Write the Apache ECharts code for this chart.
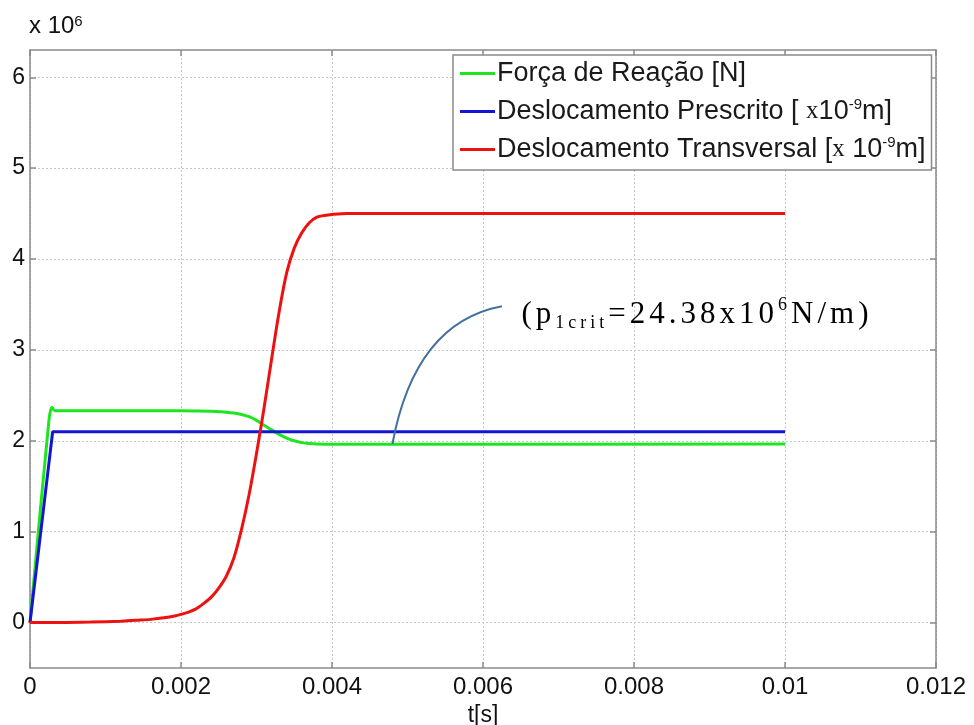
<!DOCTYPE html>
<html>
<head>
<meta charset="utf-8">
<script src="https://cdn.jsdelivr.net/npm/echarts@6/dist/echarts.min.js"></script>
<style>html,body{margin:0;padding:0;background:#fff;}#c{width:974px;height:725px;}</style>
</head>
<body>
<div id="c"></div>
<script>
// ---- data (y values in units of 10^6) ----
const xTicks = [0, 0.002, 0.004, 0.006, 0.008, 0.01, 0.012];
const yTicks = [0, 1, 2, 3, 4, 5, 6];

const forcaT = [0, 0.00025, 0.00029, 0.00033, 0.001, 0.0016, 0.002, 0.0022, 0.0024, 0.0025, 0.0026, 0.0027, 0.0028, 0.0029, 0.003, 0.0031, 0.0032, 0.0033, 0.0034, 0.0035, 0.0036, 0.0037, 0.0038, 0.004, 0.005, 0.01];
const forcaY = [0, 2.22, 2.37, 2.33, 2.33, 2.33, 2.33, 2.328, 2.325, 2.32, 2.315, 2.305, 2.29, 2.265, 2.225, 2.17, 2.12, 2.07, 2.03, 2.0, 1.98, 1.97, 1.965, 1.962, 1.962, 1.965];

const prescT = [0, 0.0003, 0.01];
const prescY = [0, 2.1, 2.1];

const transT = [0, 0.0004, 0.0008, 0.0012, 0.0014, 0.0016, 0.0018, 0.0019, 0.002, 0.0021, 0.0022, 0.0023, 0.0024, 0.0025, 0.0026, 0.0027, 0.0028, 0.0029, 0.003, 0.0031, 0.0032, 0.0033, 0.0034, 0.0035, 0.0036, 0.0037, 0.0038, 0.0039, 0.004, 0.0042, 0.0046, 0.01];
const transY = [0, 0.0, 0.005, 0.015, 0.025, 0.035, 0.055, 0.07, 0.09, 0.115, 0.15, 0.21, 0.28, 0.38, 0.51, 0.71, 1.02, 1.40, 1.86, 2.36, 2.9, 3.42, 3.85, 4.12, 4.29, 4.40, 4.46, 4.48, 4.49, 4.5, 4.5, 4.5];

const seriesNames = ['Força de Reação [N]', 'Deslocamento Prescrito [ x10-9m]', 'Deslocamento Transversal [x 10-9m]'];
const legendRich = {
  'Força de Reação [N]': 'Força de Reação [N]',
  'Deslocamento Prescrito [ x10-9m]': 'Deslocamento Prescrito [ {x|x}10{sup|-9}m]',
  'Deslocamento Transversal [x 10-9m]': 'Deslocamento Transversal [{x|x} 10{sup|-9}m]'
};

// annotation anchor points (data coords)
const annotStart = [0.0048, 1.965];
const annotCtrl = [0.0051, 3.3];
const annotEnd = [0.00625, 3.48];
const annotTextPos = [0.00651, 3.39];

function pairs(t, y) { return t.map((v, i) => [v, y[i]]); }

const chart = echarts.init(document.getElementById('c'));
const axisGray = '#8a8a8a';
const FONT = 'Liberation Sans, Arial, sans-serif';

chart.setOption({
  animation: false,
  backgroundColor: '#fff',
  grid: { left: 30, top: 50, width: 906, height: 618, show: false, outerBoundsMode: 'none', containLabel: false },
  xAxis: [{
    type: 'value', min: 0, max: 0.012, interval: 0.002,
    name: 't[s]', nameLocation: 'middle', nameGap: 31,
    nameTextStyle: { fontSize: 23, color: '#111', fontFamily: FONT },
    axisLine: { show: true, onZero: false, lineStyle: { color: axisGray, width: 1.5 } },
    axisTick: { show: true, inside: true, length: 6, lineStyle: { color: axisGray, width: 1.5 } },
    axisLabel: { fontSize: 24, color: '#111', fontFamily: FONT, margin: 7 },
    splitLine: { show: true, lineStyle: { color: '#c8c8c8', type: [2, 2], width: 1 } }
  }, {
    type: 'value', min: 0, max: 0.012, interval: 0.002, position: 'top',
    axisLine: { show: true, onZero: false, lineStyle: { color: axisGray, width: 1.5 } },
    axisTick: { show: true, inside: true, length: 6, lineStyle: { color: axisGray, width: 1.5 } },
    axisLabel: { show: false }, splitLine: { show: false }
  }],
  yAxis: [{
    type: 'value', min: -0.5, max: 6.3,
    axisLine: { show: true, onZero: false, lineStyle: { color: axisGray, width: 1.5 } },
    axisTick: { show: true, inside: true, length: 6, customValues: yTicks, lineStyle: { color: axisGray, width: 1.5 } },
    axisLabel: { fontSize: 23, color: '#111', fontFamily: FONT, margin: 5, customValues: yTicks },
    splitLine: { show: true, lineStyle: { color: '#c8c8c8', type: [2, 2], width: 1 } }
  }, {
    type: 'value', min: -0.5, max: 6.3, position: 'right',
    axisLine: { show: true, onZero: false, lineStyle: { color: axisGray, width: 1.5 } },
    axisTick: { show: true, inside: true, length: 6, customValues: yTicks, lineStyle: { color: axisGray, width: 1.5 } },
    axisLabel: { show: false, customValues: yTicks }, splitLine: { show: false }
  }],
  legend: {
    orient: 'vertical', left: 453, top: 55,
    data: seriesNames,
    icon: 'rect', itemWidth: 35, itemHeight: 3, itemGap: 9,
    padding: [4, 6, 6, 7],
    backgroundColor: '#fff', borderColor: '#8a8a8a', borderWidth: 1.5,
    formatter: name => legendRich[name],
    textStyle: {
      fontSize: 27, color: '#1a1a1a', fontFamily: FONT, lineHeight: 29, padding: [0, 0, 0, -3],
      rich: {
        sup: { fontSize: 15, fontFamily: FONT, color: '#1a1a1a', verticalAlign: 'top', lineHeight: 18 },
        x: { fontSize: 25, fontFamily: 'Liberation Serif, serif', color: '#1a1a1a' }
      }
    }
  },
  series: [{
    name: seriesNames[0], type: 'line', data: pairs(forcaT, forcaY),
    showSymbol: false, smooth: 0.3,
    lineStyle: { color: '#1ee61e', width: 3 }, itemStyle: { color: '#1ee61e' }, z: 3
  }, {
    name: seriesNames[1], type: 'line', data: pairs(prescT, prescY),
    showSymbol: false,
    lineStyle: { color: '#1414d2', width: 3 }, itemStyle: { color: '#1414d2' }, z: 4
  }, {
    name: seriesNames[2], type: 'line', data: pairs(transT, transY),
    showSymbol: false, smooth: 0.3,
    lineStyle: { color: '#ee1111', width: 3 }, itemStyle: { color: '#ee1111' }, z: 5
  }]
});

// annotation + exponent label
const p0 = chart.convertToPixel({ gridIndex: 0 }, annotStart);
const pc = chart.convertToPixel({ gridIndex: 0 }, annotCtrl);
const p1 = chart.convertToPixel({ gridIndex: 0 }, annotEnd);
const pt = chart.convertToPixel({ gridIndex: 0 }, annotTextPos);

const annotParts = [['m', '(p'], ['s', '1crit'], ['m', '=24.38x10'], ['u', '6'], ['m', 'N/m)']];
let annotStr = '';
annotParts.forEach(([k, s]) => { for (const ch of s) annotStr += '{' + k + '|' + ch + '}'; });
const serif = 'Liberation Serif, Times New Roman, serif';

chart.setOption({
  graphic: [{
    type: 'bezierCurve',
    shape: { x1: p0[0], y1: p0[1], cpx1: pc[0], cpy1: pc[1], x2: p1[0], y2: p1[1] },
    style: { stroke: '#44709f', lineWidth: 2, fill: null }, z: 100
  }, {
    type: 'text', x: pt[0], y: pt[1], z: 100,
    style: {
      text: annotStr, verticalAlign: 'middle',
      rich: {
        m: { fontSize: 31, fontFamily: serif, color: '#111', lineHeight: 36, padding: [0, 4, 0, 0] },
        s: { fontSize: 18, fontFamily: serif, color: '#111', lineHeight: 24, verticalAlign: 'bottom', padding: [0, 4, 0, 0] },
        u: { fontSize: 18, fontFamily: serif, color: '#111', lineHeight: 22, verticalAlign: 'top', padding: [0, 4, 0, 0] }
      }
    }
  }, {
    type: 'text', left: 29, top: 14, z: 100,
    style: {
      text: 'x 10{u|6}',
      font: '24px ' + FONT, fill: '#111',
      rich: {
        u: { fontSize: 15, fontFamily: FONT, color: '#111', verticalAlign: 'top', lineHeight: 17 }
      }
    }
  }]
});
</script>
</body>
</html>
